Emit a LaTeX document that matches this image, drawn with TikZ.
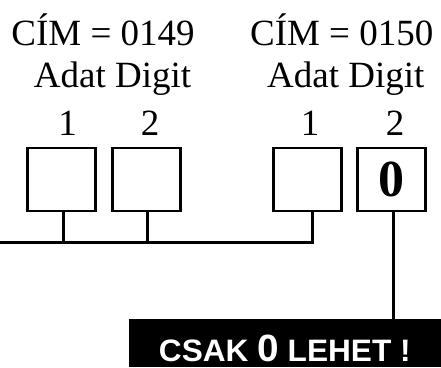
\documentclass[tikz,border=0pt]{standalone}
\usepackage{fontspec}
\setmainfont{Liberation Serif}
\newfontfamily\warnfont{Liberation Sans}[FakeStretch=1.02]
\usetikzlibrary{positioning,calc}
\tikzset{
  digitbox/.style={draw,line width=2.6pt,minimum width=68pt,minimum height=63pt,inner sep=0pt},
  wire/.style={line width=2.6pt},
  caption/.style={anchor=base,inner sep=0pt,font=\fontsize{37}{40}\selectfont}
}

\begin{document}
\begin{tikzpicture}[x=1pt,y=-1pt]
    \useasboundingbox (0,0) rectangle (441,367);
    \node [caption] (cim1) at (103,45) {CÍM = 0149};
    \node [caption] (cim2) at (341.7,45) {CÍM = 0150};
    \node [caption] (adat1) at (112.5,87.5) {Adat Digit};
    \node [caption] (adat2) at (345.8,87.5) {Adat Digit};
    \node [caption] (n11) at (67.5,135) {1};
    \node [caption] (n12) at (150,135) {2};
    \node [caption] (n21) at (310,135) {1};
    \node [caption] (n22) at (395,135) {2};
    \node [digitbox] (d11) at (61.7,179.5) {};
    \node [digitbox] (d12) at (146.2,179.5) {};
    \node [digitbox] (d21) at (307.7,179.5) {};
    \node [digitbox,font=\fontsize{52}{56}\selectfont\bfseries] (d22) at (391.7,179.5) {0};
    \node [fill=black,text=white,anchor=south east,inner sep=0pt,minimum width=312pt,
           text height=42.4pt,text depth=5.3pt,font=\warnfont\bfseries\fontsize{31}{34}\selectfont]
           (warn) at (441,367) {CSAK {\fontsize{38}{40}\selectfont 0} LEHET !};
    \coordinate (bus) at (0,242.3);
    \draw [wire] (bus) -- ([xshift=5pt]d21.south |- bus) -- ([xshift=5pt]d21.south);
    \draw [wire] ([xshift=1.6pt]d11.south) -- ([xshift=1.6pt]d11.south |- bus);
    \draw [wire] ([xshift=1.1pt]d12.south) -- ([xshift=1.1pt]d12.south |- bus);
    \draw [wire] ([xshift=1.6pt]d22.south) -- ([xshift=1.6pt]d22.south |- warn.north);
\end{tikzpicture}
\end{document}
